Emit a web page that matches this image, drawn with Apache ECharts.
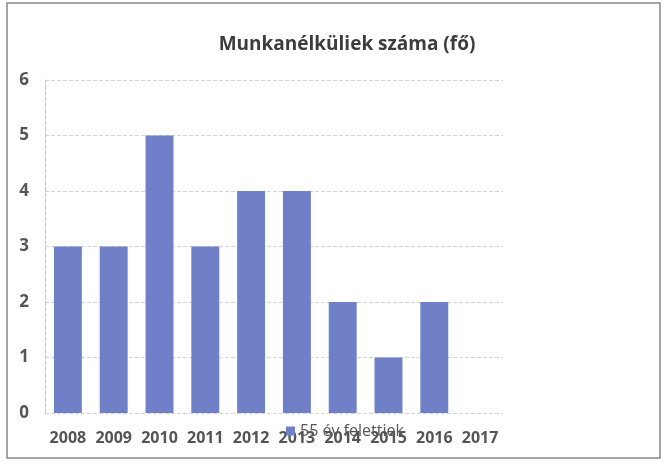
<!DOCTYPE html>
<html>
<head>
<meta charset="utf-8">
<script src="https://cdn.jsdelivr.net/npm/echarts@6/dist/echarts.min.js"></script>
<style>
html,body{margin:0;padding:0;background:#fff;}
#main{width:667px;height:466px;}
</style>
</head>
<body>
<div id="main"></div>
<script>
var years = ['2008','2009','2010','2011','2012','2013','2014','2015','2016','2017'];
var values = [3, 3, 5, 3, 4, 4, 2, 1, 2, 0];
var seriesName = '55 év felettiek';

var myChart = echarts.init(document.getElementById('main'));

var option = {
    backgroundColor: '#fff',
    title: {
        text: 'Munkanélküliek száma (fő)',
        left: 342,
        textAlign: 'center',
        top: 30,
        textStyle: {
            fontFamily: 'Open Sans',
            fontSize: 19,
            fontWeight: 'bold',
            color: '#3c3c3c'
        }
    },
    legend: {
        data: [seriesName],
        left: 281,
        top: 418,
        icon: 'rect',
        itemWidth: 9,
        itemHeight: 9,
        itemGap: 4,
        textStyle: {
            fontFamily: 'Open Sans',
            fontSize: 16,
            color: '#555'
        }
    },
    grid: {
        left: 45,
        right: 164,
        top: 80,
        bottom: 53
    },
    xAxis: {
        type: 'category',
        data: years,
        axisLine: { show: false },
        axisTick: { show: false },
        axisLabel: {
            interval: 0,
            hideOverlap: false,
            fontFamily: 'Open Sans',
            fontSize: 16,
            fontWeight: 'bold',
            color: '#555',
            margin: 17
        }
    },
    yAxis: {
        type: 'value',
        min: 0,
        max: 6,
        interval: 1,
        axisLine: { show: true, lineStyle: { color: '#c4c4c4', type: 'dashed' } },
        axisLabel: {
            fontFamily: 'Open Sans',
            fontSize: 17,
            fontWeight: 'bold',
            color: '#555',
            margin: 16
        },
        splitLine: { lineStyle: { color: '#d4d4d4', type: 'dashed' } }
    },
    series: [{
        name: seriesName,
        type: 'bar',
        data: values,
        barWidth: '61%',
        itemStyle: { color: '#7080c8' }
    }],
    graphic: [{
        type: 'rect',
        shape: { x: 7, y: 3, width: 653, height: 455 },
        style: { fill: 'none', stroke: '#888', lineWidth: 1.5 },
        silent: true
    }]
};
myChart.setOption(option);
</script>
</body>
</html>
